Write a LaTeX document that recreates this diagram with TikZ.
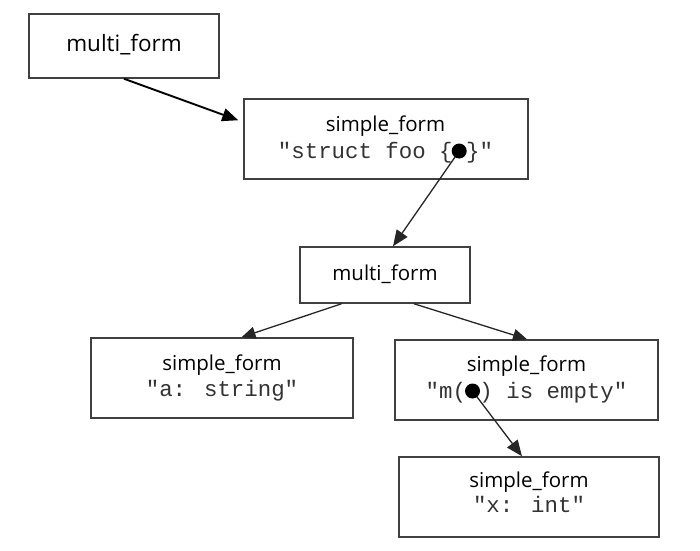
\documentclass[tikz,border=0pt]{standalone}
\usepackage{fontspec}
\setmainfont{Open Sans}
\newfontfamily\codefont{Liberation Mono}
\usetikzlibrary{arrows.meta,calc}
\begin{document}
\begin{tikzpicture}[x=1pt,y=-1pt,
  box/.style={draw=black!75, line width=1.5pt, inner sep=0pt},
  title/.style={anchor=base, inner sep=0pt, font=\fontsize{20.5}{24}\selectfont, text=black},
  code/.style={anchor=base, inner sep=0pt, font=\codefont\fontsize{22.4}{26}\selectfont, text=black!80},
  dotnode/.style={circle, fill=black, inner sep=0pt, minimum size=15pt},
  link/.style={draw=black!85, line width=1.3pt, -{Triangle[length=16pt,width=13pt]}}
]
\useasboundingbox[fill=white] (0,0) rectangle (700,550);

% boxes
\node[box, minimum width=190pt, minimum height=64pt] (m1) at (124,46) {};
\node[box, minimum width=284pt, minimum height=80pt] (b2) at (386,139) {};
\node[box, minimum width=170pt, minimum height=56pt] (m3) at (385,275) {};
\node[box, minimum width=262pt, minimum height=80pt] (b4) at (222,378) {};
\node[box, minimum width=263pt, minimum height=80pt] (b5) at (526.5,380) {};
\node[box, minimum width=260pt, minimum height=80pt] (b6) at (529,497) {};

% texts
\node[title, font=\fontsize{22.5}{26}\selectfont] (m1t) at (124,51) {multi\_form};
\node[title] (b2t) at (385.5,131) {simple\_form};
\node[code] (c2) at (385.5,158) {"struct foo \{\hphantom{x}\}"};
\node[title] (m3t) at (385,280) {multi\_form};
\node[title] (b4t) at (222,370) {simple\_form};
\node[code] (c4) at (222,396) {"a: string"};
\node[title] (b5t) at (526.5,371) {simple\_form};
\node[code] (c5) at (526.5,398) {"m(\hphantom{x}) is empty"};
\node[title] (b6t) at (529,487) {simple\_form};
\node[code] (c6) at (529,512) {"x: int"};

% connectors
\coordinate (a1e) at ($(b2.north west)+(-5pt,-22pt)$);
\draw[link, draw=black, line width=1.9pt] (m1.south) -- (a1e);

\coordinate (d2c) at ($(c2.base west)+(181.44pt,7pt)$);
\coordinate (d5c) at ($(c5.base west)+(47.04pt,7pt)$);

\draw[link] (d2c) -- ($(m3.north)+(8pt,0pt)$);
\draw[link, -{Triangle[length=14pt,width=12pt]}] ($(m3.south)+(-43.5pt,0pt)$) -- ($(b4.north)+(19.5pt,0pt)$);
\draw[link, -{Triangle[length=14pt,width=12pt]}] ($(m3.south)+(29pt,0pt)$) -- ($(b5.north)+(0.5pt,0pt)$);
\draw[link] (d5c) -- ($(b6.north)+(-7pt,0pt)$);

\node[dotnode] (d2) at (d2c) {};
\node[dotnode] (d5) at (d5c) {};
\end{tikzpicture}
\end{document}
